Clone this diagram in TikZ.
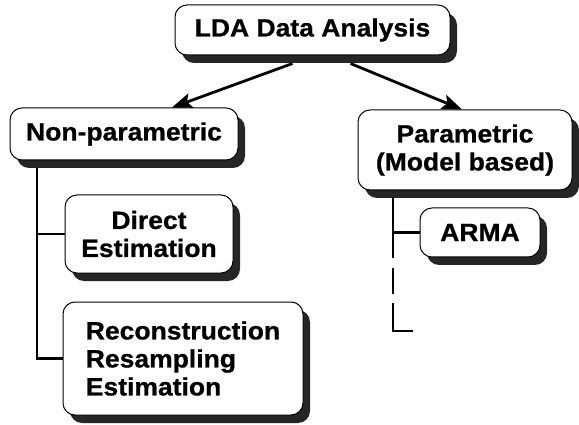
\documentclass[tikz,border=0pt]{standalone}
\usepackage{fontspec}
\newfontfamily\boxfont{Liberation Sans}[FakeStretch=1.06,BoldFeatures={FakeBold=0.8}]
\usetikzlibrary{arrows.meta,shadows}

\begin{document}
\begin{tikzpicture}[x=1pt,y=-1pt,>={Stealth[length=20pt,width=15pt,inset=4pt]},
    box node/.style={draw,line width=1pt,rounded corners=12pt,fill=white,align=center,
        font=\boxfont\bfseries\fontsize{25}{28}\selectfont,
        drop shadow={shadow xshift=7pt,shadow yshift=-8pt,opacity=1,fill=black!85}},
    branch/.style={line width=2.6pt},
    arrow/.style={->,line width=2.8pt}]

    \useasboundingbox (0,0) rectangle (579,425);

    \node[box node,minimum width=275pt,minimum height=50pt] (lda) at (312.5,30) {LDA Data Analysis};
    \node[box node,minimum width=228pt,minimum height=52pt] (nonpar) at (124,134) {Non-parametric};
    \node[box node,minimum width=214pt,minimum height=80pt] (par) at (465,150) {Parametric\\(Model based)};
    \node[box node,minimum width=168pt,minimum height=78pt] (direct) at (149,234) {Direct\\Estimation};
    \node[box node,minimum width=240pt,minimum height=113pt,align=left] (recon) at (183,358.5) {Reconstruction\\Resampling\\Estimation};
    \node[box node,minimum width=120pt,minimum height=49pt] (arma) at (480,232.5) {ARMA};

    \coordinate (ltrunk) at (37,168);
    \coordinate (rtrunk) at (393,197);
    \coordinate (rend) at (413,331);

    % arrows from the root
    \draw[arrow] ([xshift=-20pt,yshift=-8pt]lda.south) -- ([xshift=48pt]nonpar.north);
    \draw[arrow] ([xshift=38pt,yshift=-8pt]lda.south) -- ([xshift=-3pt]par.north);

    % left tree
    \draw[branch] (ltrunk) |- (recon.west);
    \draw[branch] (ltrunk |- direct.west) -- (direct.west);

    % right tree
    \draw[branch,dash pattern=on 61pt off 10pt on 26pt off 9pt on 60pt] (rtrunk) |- (rend);
    \draw[branch] (rtrunk |- arma.west) -- (arma.west);
\end{tikzpicture}
\end{document}
